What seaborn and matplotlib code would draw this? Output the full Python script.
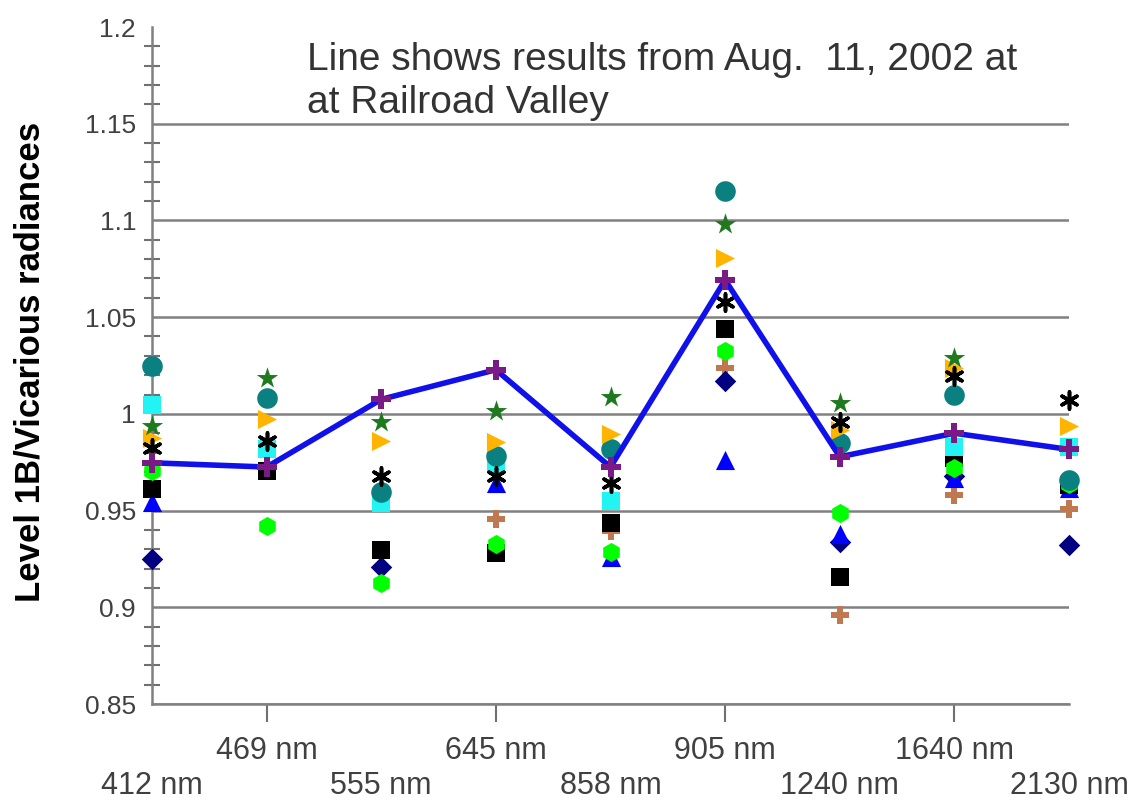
import matplotlib
matplotlib.use("Agg")
import matplotlib.pyplot as plt
import seaborn as sns
import numpy as np
from matplotlib.ticker import MultipleLocator, FixedLocator

sns.set_theme(style="white")
plt.rcParams['font.family'] = ['Liberation Sans', 'DejaVu Sans']

nan = np.nan

# ---------------- data ----------------
categories = ["412 nm", "469 nm", "555 nm", "645 nm", "858 nm",
              "905 nm", "1240 nm", "1640 nm", "2130 nm"]

line_aug11 = [0.9747, 0.9725, 1.0075, 1.0228, 0.9725, 1.0692, 0.9778, 0.9900, 0.9816]
teal_circle = [1.0250, 1.0080, 0.9597, 0.9780, 0.9820, 1.1153, 0.9850, 1.0095, 0.9660]
green_star = [0.9935, 1.0186, 0.9958, 1.0013, 1.0088, 1.0979, 1.0055, 1.0288, nan]
orange_tri = [0.9875, 0.9975, 0.9860, 0.9857, 0.9894, 1.0805, 0.9918, 1.0237, 0.9935]
black_aster = [0.9824, 0.9860, 0.9680, 0.9680, 0.9640, 1.0578, 0.9960, 1.0195, 1.0072]
cyan_square = [1.0046, 0.9816, 0.9539, 0.9740, 0.9547, nan, nan, 0.9830, 0.9830]
black_square = [0.9610, 0.9705, 0.9295, 0.9279, 0.9437, 1.0439, 0.9159, 0.9770, 0.9630]
lime_hex = [0.9705, 0.9420, 0.9128, 0.9329, 0.9285, 1.0326, 0.9490, 0.9720, 0.9635]
navy_diamond = [0.9250, nan, 0.9210, nan, nan, 1.0169, 0.9338, 0.9680, 0.9320]
blue_tri = [0.9543, nan, nan, 0.9640, 0.9260, 0.9760, 0.9380, 0.9670, 0.9615]
brown_plus = [nan, nan, nan, 0.9455, 0.9395, 1.0239, 0.8962, 0.9580, 0.9510]

y_ticks = [0.85, 0.9, 0.95, 1.0, 1.05, 1.1, 1.15, 1.2]
y_tick_labels = ["0.85", "0.9", "0.95", "1", "1.05", "1.1", "1.15", "1.2"]

note = "Line shows results from Aug.  11, 2002 at\nat Railroad Valley"
y_title = "Level 1B/Vicarious radiances"

# ---------------- figure ----------------
W, H = 1133, 805
fig = plt.figure(figsize=(W / 100, H / 100), dpi=100)
ax = fig.add_axes([152 / W, 1 - 704 / H, (1069 - 152) / W, (704 - 27) / H])

x = np.arange(len(categories))

styles = [
    (brown_plus, "P", "#c07850", 170, 0.0),
    (navy_diamond, "D", "#000080", 120, 0.0),
    (blue_tri, "^", "#0000ff", 190, 0.0),
    (black_square, "s", "#000000", 180, 0.0),
    (lime_hex, "h", "#00ff00", 190, 0.0),
    (cyan_square, "s", "#22f4f4", 180, 0.0),
    (teal_circle, "o", "#0a8080", 220, 0.0),
    (orange_tri, ">", "#ffb400", 190, 0.0),
    (green_star, "*", "#1f7a1f", 260, 0.0),
    (black_aster, (6, 2, 0), "#000000", 150, 2.6),
]

for vals, mk, col, sz, lw in styles:
    sns.scatterplot(x=x, y=vals, marker=mk, color=col, s=sz,
                    edgecolor=col, linewidth=lw, ax=ax, zorder=3,
                    clip_on=False, legend=False)

sns.lineplot(x=x, y=line_aug11, color="#1010ea", linewidth=4.0, ax=ax,
             zorder=4, clip_on=False, legend=False)
sns.scatterplot(x=x, y=line_aug11, marker="P", color="#7a1a86", s=190,
                edgecolor="#7a1a86", linewidth=0, ax=ax, zorder=5,
                clip_on=False, legend=False)

ax.set_xlim(0, len(categories) - 1)
ax.set_ylim(0.85, 1.2)

# y axis
ax.yaxis.set_major_locator(FixedLocator(y_ticks))
ax.set_yticklabels(y_tick_labels)
ax.yaxis.set_minor_locator(MultipleLocator(0.01))
ax.tick_params(axis="y", which="major", direction="inout", length=17,
               width=1.5, color="#707070", labelsize=19, labelcolor="#404040", pad=3)
ax.tick_params(axis="y", which="minor", direction="inout", length=11,
               width=1.5, color="#707070", left=True)

# x axis: staggered labels via major (lower row) and minor (upper row)
ax.set_xticks(x[0::2])
ax.set_xticklabels(categories[0::2])
ax.set_xticks(x[1::2], minor=True)
ax.set_xticklabels(categories[1::2], minor=True)
ax.tick_params(axis="x", which="major", direction="out", length=40, width=1.5,
               color="#707070", labelsize=22, labelcolor="#404040", pad=8)
ax.tick_params(axis="x", which="minor", direction="out", length=13, width=1.5,
               color="#707070", labelsize=22, labelcolor="#404040", pad=10,
               bottom=True)

# grid and spines
ax.yaxis.grid(True, which="major", color="#808080", linewidth=1.8)
ax.xaxis.grid(False)
ax.set_axisbelow(True)
ax.get_ygridlines()[-1].set_visible(False)
for s in ["top", "right"]:
    ax.spines[s].set_visible(False)
for s in ["left", "bottom"]:
    ax.spines[s].set_color("#808080")
    ax.spines[s].set_linewidth(1.8)

fig.text(307 / W, 1 - 42 / H, note, ha="left", va="top", fontsize=28,
         color="#333333", linespacing=1.25)
fig.text(30 / W, 1 - 362 / H, y_title, rotation=90, ha="center", va="center",
         fontsize=25, fontweight="bold", color="#000000")

fig.savefig("out.png", dpi=100)
